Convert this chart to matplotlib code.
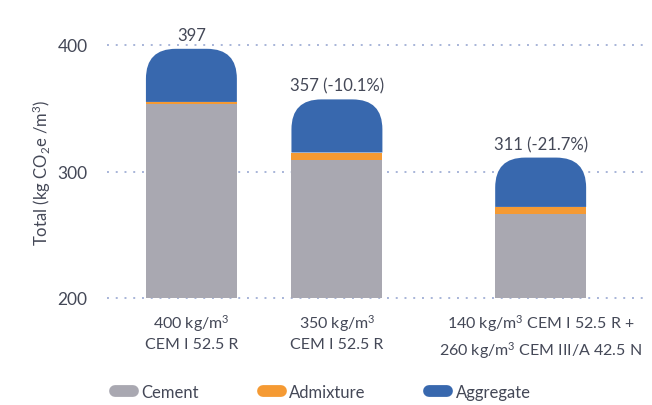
import numpy as np
import matplotlib
matplotlib.use("Agg")
import matplotlib.pyplot as plt
from matplotlib.path import Path
from matplotlib.patches import PathPatch, Rectangle
from matplotlib.lines import Line2D

plt.rcParams['font.family'] = ['Lato', 'DejaVu Sans']
plt.rcParams['mathtext.fontset'] = 'custom'
plt.rcParams['mathtext.rm'] = 'Lato'
plt.rcParams['mathtext.it'] = 'Lato'

# data
categories = ["400 kg/m$^3$\nCEM I 52.5 R",
              "350 kg/m$^3$\nCEM I 52.5 R",
              "140 kg/m$^3$ CEM I 52.5 R +\n260 kg/m$^3$ CEM III/A 42.5 N"]
cement = [353.0, 309.0, 266.5]
admixture = [2.0, 6.0, 5.5]
aggregate = [42.0, 42.0, 39.0]
series_names = ["Cement", "Admixture", "Aggregate"]
yticks = [200, 300, 400]

# layout
xpos = [0, 1, 2.4]
width = 0.625
colors = ["#a9a8b1", "#f59a33", "#3868ae"]
txt_col = "#444857"

fig = plt.figure(figsize=(6.52, 4.06), dpi=100)
ax = fig.add_axes([107/652, (406-299)/406, (645-107)/652, (299-46)/406])
ax.set_xlim(-0.58, 3.117)
ax.set_ylim(200, 400)

def rounded_top(x0, y0, w, h, rx, ry):
    verts = [(x0, y0), (x0, y0+h-ry),
             (x0, y0+h), (x0+rx, y0+h),
             (x0+w-rx, y0+h),
             (x0+w, y0+h), (x0+w, y0+h-ry),
             (x0+w, y0), (x0, y0)]
    codes = [Path.MOVETO, Path.LINETO,
             Path.CURVE3, Path.CURVE3,
             Path.LINETO,
             Path.CURVE3, Path.CURVE3,
             Path.LINETO, Path.CLOSEPOLY]
    return Path(verts, codes)

rx = 30/145.5
ry = 30/1.265
for i, x in enumerate(xpos):
    x0 = x - width/2
    ax.add_patch(Rectangle((x0, 200), width, cement[i]-200, color=colors[0], lw=0, zorder=3))
    ax.add_patch(Rectangle((x0, cement[i]), width, admixture[i], color=colors[1], lw=0, zorder=3))
    base = cement[i] + admixture[i]
    ax.add_patch(PathPatch(rounded_top(x0, base, width, aggregate[i], rx, ry),
                           facecolor=colors[2], lw=0, zorder=3))

totals = np.array(cement) + np.array(admixture) + np.array(aggregate)
for i, x in enumerate(xpos):
    t = round(totals[i])
    if i == 0:
        s = f"{t}"
    else:
        pct = (t - round(totals[0])) / round(totals[0]) * 100
        s = f"{t} ({pct:.1f}%)"
    ax.annotate(s, (x, totals[i]), xytext=(0, 4), textcoords="offset points",
                ha="center", va="bottom", fontsize=12, color=txt_col, annotation_clip=False)

ax.set_yticks(yticks)
ax.set_yticklabels([str(v) for v in yticks], fontsize=12.5, color=txt_col)
ax.tick_params(axis='y', length=0, pad=14)
ax.set_xticks(xpos)
ax.set_xticklabels(categories, fontsize=11.5, color=txt_col, linespacing=1.4)
ax.tick_params(axis='x', length=0, pad=10)
for v in yticks:
    ax.axhline(v, color="#a7b4d8", lw=1.4, ls=(0, (1, 3.5)), zorder=1, clip_on=False)
for sp in ax.spines.values():
    sp.set_visible(False)

ax.set_ylabel("Total (kg CO$_2$e /m$^3$)", fontsize=12, color=txt_col, labelpad=3)

handles = [Line2D([0], [0], color=c, lw=8.5, solid_capstyle='round') for c in colors]
fig.legend(handles, series_names, loc="lower left", bbox_to_anchor=(100/652, -0.025),
           ncol=3, frameon=False, fontsize=12, handlelength=1.1, columnspacing=3.8,
           handletextpad=0.5, labelcolor=txt_col)

fig.savefig("out.png", dpi=100)
